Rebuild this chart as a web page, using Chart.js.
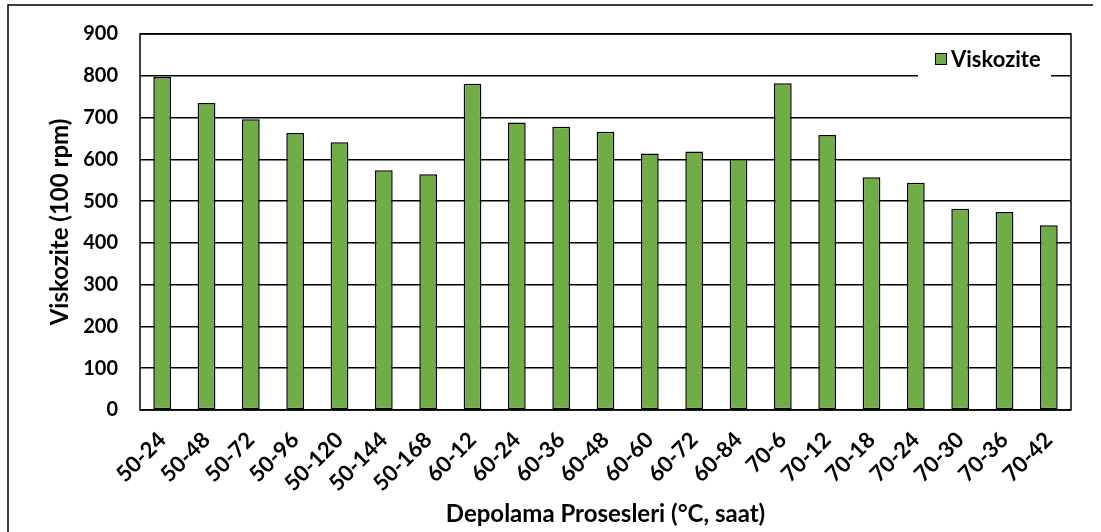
<!DOCTYPE html>
<html>
<head>
<meta charset="utf-8">
<script src="https://cdn.jsdelivr.net/npm/chart.js@4/dist/chart.umd.min.js"></script>
<style>
  html, body { margin: 0; padding: 0; background: #ffffff; }
  #c { display: block; }
</style>
</head>
<body>
<canvas id="c" width="1101" height="532"></canvas>
<script>
const categories = ['50-24','50-48','50-72','50-96','50-120','50-144','50-168',
  '60-12','60-24','60-36','60-48','60-60','60-72','60-84',
  '70-6','70-12','70-18','70-24','70-30','70-36','70-42'];
const viskozite = [797, 735, 696, 663, 641, 574, 564,
  781, 688, 678, 666, 614, 619, 601,
  782, 658, 557, 544, 482, 474, 442];
const yMin = 0, yMax = 900, yStep = 100;
const seriesName = 'Viskozite';
const xTitle = 'Depolama Prosesleri (°C, saat)';
const yTitle = 'Viskozite (100 rpm)';

const FONT = 'Lato, "Open Sans", sans-serif';
const GREEN = '#70AD47';

const framePlugin = {
  id: 'frame',
  beforeDraw(chart) {
    const ctx = chart.ctx;
    ctx.save();
    ctx.fillStyle = '#ffffff';
    ctx.fillRect(0, 0, chart.width, chart.height);
    ctx.restore();
  },
  afterDatasetsDraw(chart) {
    const ctx = chart.ctx;
    const a = chart.chartArea;
    ctx.save();
    ctx.strokeStyle = '#000';
    ctx.lineWidth = 1.5;
    ctx.strokeRect(a.left, a.top, a.right - a.left, a.bottom - a.top);
    ctx.beginPath();
    ctx.moveTo(8, chart.height);
    ctx.lineTo(8, 5);
    ctx.lineTo(1093, 5);
    ctx.stroke();
    // legend
    ctx.fillStyle = '#ffffff';
    ctx.fillRect(918, 44, 133, 36);
    ctx.fillStyle = GREEN;
    ctx.fillRect(935, 53, 12, 12);
    ctx.lineWidth = 1;
    ctx.strokeStyle = '#000';
    ctx.strokeRect(935.5, 53.5, 11, 11);
    ctx.fillStyle = '#000';
    ctx.font = 'bold 22px ' + FONT;
    ctx.textBaseline = 'middle';
    ctx.textAlign = 'left';
    ctx.fillText(seriesName, 951, 60);
    ctx.restore();
  }
};

new Chart(document.getElementById('c'), {
  type: 'bar',
  data: {
    labels: categories,
    datasets: [{
      label: seriesName,
      data: viskozite,
      backgroundColor: GREEN,
      borderColor: '#000',
      borderWidth: 1.5,
      borderSkipped: false,
      categoryPercentage: 1.0,
      barPercentage: 0.4
    }]
  },
  options: {
    responsive: false,
    animation: false,
    devicePixelRatio: 1,
    layout: { padding: { left: 42, top: 34, right: 30, bottom: 0 } },
    plugins: {
      legend: { display: false },
      tooltip: { enabled: false }
    },
    scales: {
      x: {
        grid: { display: false, drawTicks: false },
        border: { display: false },
        ticks: {
          color: '#000',
          font: { family: FONT, size: 22, weight: 'bold' },
          minRotation: 45,
          maxRotation: 45,
          autoSkip: false,
          padding: 17
        },
        title: {
          display: true,
          text: xTitle,
          color: '#000',
          font: { family: FONT, size: 24, weight: 'bold' },
          padding: { top: 4, bottom: 3 }
        },
        afterFit(s) { s.height = 122; }
      },
      y: {
        min: yMin,
        max: yMax,
        grid: { color: '#000', lineWidth: 1.5, drawTicks: false },
        border: { display: false },
        ticks: {
          stepSize: yStep,
          color: '#000',
          font: { family: FONT, size: 20, weight: 'bold' },
          padding: 22
        },
        title: {
          display: true,
          text: yTitle,
          color: '#000',
          font: { family: FONT, size: 24, weight: 'bold' },
          padding: { top: 4, bottom: 4 }
        },
        afterFit(s) { s.width = 98; }
      }
    }
  },
  plugins: [framePlugin]
});
</script>
</body>
</html>
